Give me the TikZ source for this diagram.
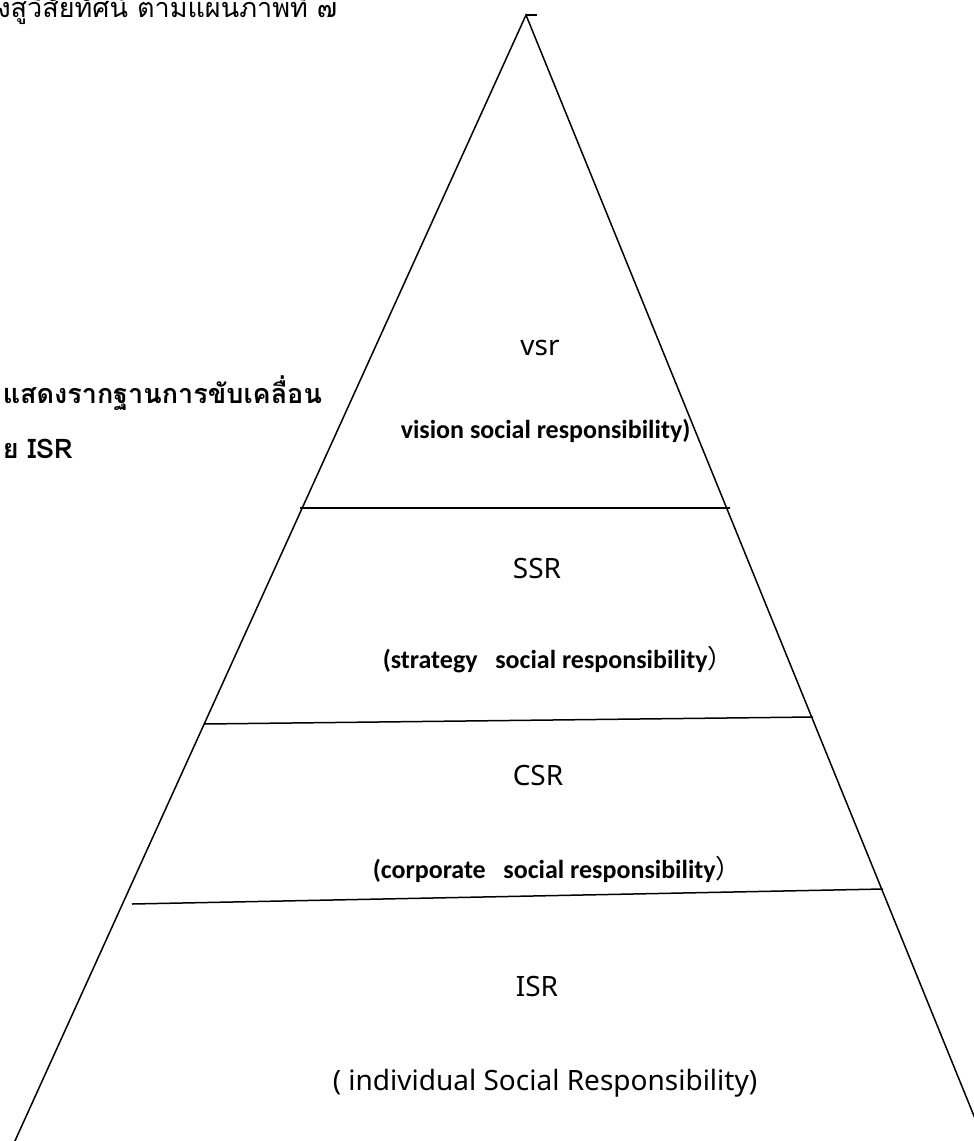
\documentclass[tikz,border=0pt]{standalone}
\usepackage{fontspec}
\setmainfont{Noto Sans}
\newfontfamily\thaifont[Script=Thai]{Loma}
\newfontfamily\calfont{Carlito}
\newfontfamily\cjkfont{Noto Sans CJK SC}
\usetikzlibrary{positioning,calc}

\begin{document}
\begin{tikzpicture}[x=1pt,y=-1pt,line width=1.5pt,
  level/.style={font=\fontsize{28}{32}\selectfont,anchor=base},
  levelsub/.style={font=\calfont\bfseries\fontsize{26}{30}\selectfont,anchor=base west,inner sep=0pt},
  thainote/.style={font=\thaifont\fontsize{27}{31}\selectfont,anchor=base west,inner sep=0pt}]
  \useasboundingbox (0,0) rectangle (974,1141);
  \clip (0,0) rectangle (974,1141);

  % ====== Pyramid outline ======
  \coordinate (apex) at (526,15);
  \coordinate (tick) at (537,15);
  \coordinate (baseL) at (14,1143);
  \coordinate (baseR) at (985,1143);
  \draw (baseL) -- (apex) -- (baseR);
  \draw (apex) -- (tick);

  % ====== Level dividers ======
  \coordinate (d1L) at (300,508); \coordinate (d1R) at (730,508);
  \coordinate (d2L) at (204,724); \coordinate (d2R) at (813,717);
  \coordinate (d3L) at (132,904); \coordinate (d3R) at (883,889);
  \draw (d1L) -- (d1R);
  \draw (d2L) -- (d2R);
  \draw (d3L) -- (d3R);

  % ====== Level names ======
  \node[level] (vsr) at (540,355) {vsr};
  \node[levelsub] (vsrSub) at (400,438) {vision social responsibility)};
  \node[level] (ssr) at (537,578) {SSR};
  \node[levelsub] (ssrSub) at (382,668)
    {(strategy\ \ \ social responsibility{\cjkfont\mdseries ）}};
  \node[level] (csr) at (538,785) {CSR};
  \node[levelsub] (csrSub) at (372,878)
    {(corporate\ \ \ social responsibility{\cjkfont\mdseries ）}};
  \node[level] (isr) at (537,996) {ISR};
  \node[level] (isrSub) at (545,1090) {( individual Social Responsibility)};

  % ====== Thai side text (cut at the page edge as in the source) ======
  \node[thainote,anchor=base east] (topNote) at (338,17) {มุ่งสู่วิสัยทัศน์ ตามแผนภาพที่ ๗};
  \node[thainote,font=\thaifont\bfseries\fontsize{27}{31}\selectfont] (sideNote) at (2,403)
    {แสดงรากฐานการขับเคลื่อน};
  \node[thainote,font=\thaifont\bfseries\fontsize{27}{31}\selectfont] (sideNoteB) at (2,458)
    {ย ISR};
\end{tikzpicture}
\end{document}
